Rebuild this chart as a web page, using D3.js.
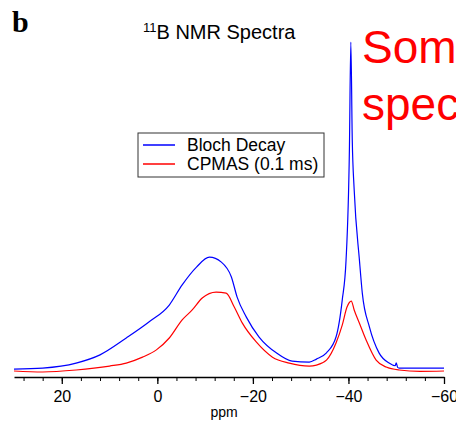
<!DOCTYPE html>
<html>
<head>
<meta charset="utf-8">
<script src="https://cdn.jsdelivr.net/npm/d3@7"></script>
<style>
  body { margin: 0; background: #fff; }
  svg { display: block; font-family: "Liberation Sans", Arial, sans-serif; }
</style>
</head>
<body>
<div id="chart"></div>
<script>
(function () {
    'use strict';

    // 11B NMR spectra, intensity (arbitrary units, tallest peak = 100)
    const blochPpm = [30, 24, 17, 12, 6.5, 1.7, -2.5, -5.2, -8.2, -10.9, -13.4, -15.5, -16.7, -18.6,
        -21.3, -24.9, -28.2, -31.8, -33.3, -35.4, -37.4, -38.7, -39.5, -40.2, -40.5, -40.8, -41.2,
        -42.3, -42.9, -44.4, -46.4, -48.5, -49.8, -50.0, -50.3, -50.6, -55, -60];
    const blochInt = [0.9, 1.2, 2.7, 5.2, 10.3, 15.2, 20.3, 26.4, 31.8, 34.8, 33.3, 28.8, 22.7, 16.7,
        10.6, 5.8, 3.3, 3.0, 3.9, 5.8, 10.6, 21.8, 33.9, 67.3, 100, 70.3, 55.2,
        33.9, 23.9, 13.6, 5.8, 2.7, 1.9, 2.8, 1.4, 1.2, 1.2, 1.2];

    const cpmasPpm = [30, 24, 17, 10, 6.5, 3.1, 0.2, -2.5, -5.2, -7.3, -9.4, -12.3, -14.4, -16.1,
        -17.8, -20.7, -24.1, -27.6, -31.8, -33.3, -35.4, -37.4, -38.7, -39.7, -40.6, -41.2, -42.3,
        -43.7, -45.8, -47.9, -50.6, -55, -60];
    const cpmasInt = [0.3, 0, 0.6, 1.8, 2.7, 4.5, 6.7, 10.3, 15.8, 18.8, 22.4, 24.2, 23.9, 19.7,
        14.8, 9.1, 4.5, 2.7, 1.8, 2.1, 3.6, 8.8, 14.2, 19.7, 21.5, 18.8, 14.8,
        9.7, 3.6, 1.5, 0.6, 0.2, 0.3];

    const series = [
        {name: 'Bloch Decay', color: '#0000ff', ppm: blochPpm, val: blochInt},
        {name: 'CPMAS (0.1 ms)', color: '#ff0000', ppm: cpmasPpm, val: cpmasInt},
    ];

    const majorTicks = [20, 0, -20, -40, -60];
    const minorTicks = d3.range(28, -61, -4);

    const W = 456, H = 423;
    const svg = d3.select('#chart').append('svg').attr('width', W).attr('height', H);

    const x = d3.scaleLinear().domain([30, -60]).range([14, 444]);
    const y = d3.scaleLinear().domain([0, 100]).range([372, 42]);
    const axisY = 377;

    svg.append('clipPath').attr('id', 'plot-clip')
        .append('rect').attr('x', 14).attr('y', 0).attr('width', 430).attr('height', axisY);

    const line = d3.line()
        .x(d => x(d[0])).y(d => y(d[1]))
        .curve(d3.curveMonotoneX);

    // CPMAS first so Bloch Decay sits on top
    series.slice().reverse().forEach(s => {
        svg.append('path')
            .datum(s.ppm.map((p, i) => [p, s.val[i]]))
            .attr('clip-path', 'url(#plot-clip)')
            .attr('fill', 'none')
            .attr('stroke', s.color)
            .attr('stroke-width', 1.2)
            .attr('d', line);
    });

    // Axis: minor ticks, then major ticks with labels
    const ax = svg.append('g').attr('transform', `translate(0,${axisY})`);
    ax.call(d3.axisBottom(x).tickValues(minorTicks).tickSize(4).tickFormat('').tickSizeOuter(0))
        .call(gg => gg.selectAll('line').attr('stroke', '#000'))
        .call(gg => gg.select('.domain').attr('stroke', '#000').attr('stroke-width', 1.3));
    svg.append('g').attr('transform', `translate(0,${axisY})`)
        .call(d3.axisBottom(x).tickValues(majorTicks).tickSize(7).tickPadding(7).tickSizeOuter(0))
        .call(gg => {
            gg.select('.domain').remove();
            gg.selectAll('line').attr('stroke', '#000').attr('stroke-width', 1.3);
            gg.selectAll('text')
                .attr('font-family', '"Liberation Sans", Arial, sans-serif')
                .attr('font-size', '16px').attr('fill', '#000');
        });

    svg.append('text').attr('x', 224).attr('y', 417)
        .attr('text-anchor', 'middle').attr('font-size', '14px').text('ppm');

    // Title with superscript
    const title = svg.append('text').attr('x', 143).attr('y', 39).attr('font-size', '20px');
    title.append('tspan').attr('font-size', '13px').attr('dy', '-7').text('11');
    title.append('tspan').attr('dy', '7').text('B NMR Spectra');

    // Panel letter
    svg.append('text').attr('x', 12).attr('y', 32)
        .attr('font-family', '"Liberation Serif", "Times New Roman", serif')
        .attr('font-weight', 'bold').attr('font-size', '30px').text('b');

    // Legend
    const lg = svg.append('g');
    lg.append('rect').attr('x', 138).attr('y', 133).attr('width', 186).attr('height', 44)
        .attr('fill', '#fff').attr('stroke', '#333').attr('stroke-width', 1);
    series.forEach((s, i) => {
        const ly = 145 + i * 19;
        lg.append('line').attr('x1', 143).attr('x2', 175).attr('y1', ly).attr('y2', ly)
            .attr('stroke', s.color).attr('stroke-width', 1.5);
        lg.append('text').attr('x', 187).attr('y', ly + 6)
            .attr('font-size', '17.5px').text(s.name);
    });

    // Red overlay text, cut off at the right edge
    svg.append('text').attr('x', 362).attr('y', 63).attr('font-size', '46px')
        .attr('fill', '#ff0000').text('Some');
    svg.append('text').attr('x', 362).attr('y', 120).attr('font-size', '46px')
        .attr('fill', '#ff0000').text('spectra');
})();
</script>
</body>
</html>
